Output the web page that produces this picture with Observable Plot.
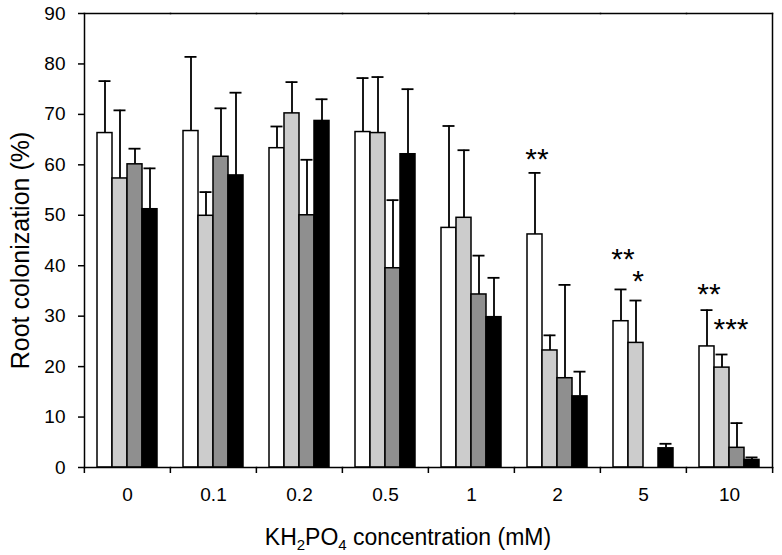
<!DOCTYPE html>
<html><head><meta charset="utf-8">
<script src="https://cdn.jsdelivr.net/npm/d3@7"></script>
<script src="https://cdn.jsdelivr.net/npm/@observablehq/plot@0.6"></script>
<style>
body{margin:0;background:#fff;font-family:"Liberation Sans",Arial,sans-serif;}
#wrap{position:relative;width:782px;height:555px;overflow:hidden;}
#xtitle{position:absolute;left:158px;width:500px;top:524px;line-height:26px;text-align:center;font-size:23px;color:#000;}
#xtitle sub{font-size:15px;vertical-align:-5px;line-height:0;}
</style></head><body><div id="wrap"><div id="chart"></div>
<div id="xtitle">KH<sub>2</sub>PO<sub>4</sub> concentration (mM)</div></div>
<script>
// ---- data ----
const categories = ["0", "0.1", "0.2", "0.5", "1", "2", "5", "10"];
const series = ["A", "B", "C", "D"];
const seriesColors = ["#ffffff", "#cccccc", "#8f8f8f", "#000000"];

const meanA = [66.3, 66.7, 63.3, 66.5, 47.5, 46.2, 29.0, 24.0];
const errA  = [10.3, 14.7, 4.3, 10.7, 20.2, 12.2, 6.3, 7.2];
const meanB = [57.3, 49.9, 70.2, 66.3, 49.5, 23.2, 24.7, 19.8];
const errB  = [13.5, 4.7, 6.2, 11.1, 13.4, 3.0, 8.4, 2.6];
const meanC = [60.1, 61.6, 50.0, 39.5, 34.3, 17.7, 0, 3.9];
const errC  = [3.1, 9.6, 11.0, 13.5, 7.7, 18.5, 0, 4.9];
const meanD = [51.2, 57.9, 68.7, 62.1, 29.8, 14.1, 3.8, 1.5];
const errD  = [8.1, 16.4, 4.3, 12.9, 7.8, 4.9, 0.9, 0.5];

const yTicks = [0, 10, 20, 30, 40, 50, 60, 70, 80, 90];

const sigCategory = ["2", "5", "5", "10", "10"];
const sigSeries   = ["A", "A", "B", "A", "B"];
const sigLabel    = ["**", "**", "*", "**", "***"];
const sigY        = [62.5, 42.7, 38.4, 35.9, 28.8];

// ---- build table ----
const meansAll = [meanA, meanB, meanC, meanD];
const errsAll = [errA, errB, errC, errD];
const rows = [];
categories.forEach((c, i) => series.forEach((s, j) => {
  rows.push({cat: c, series: s, mean: meansAll[j][i], err: errsAll[j][i]});
}));
const barRows = rows.filter(d => d.mean > 0);
const errRows = rows.filter(d => d.mean > 0 && d.err > 0);
const sig = sigLabel.map((t, i) => ({cat: sigCategory[i], series: sigSeries[i], label: t, y: sigY[i]}));

const W = 782, H = 520, mL = 83, mR = 9, mT = 13, mB = 53;
const bw = (W - mL - mR) / categories.length;
const starSize = 30;
const tickFont = 19;

const chart = Plot.plot({
  width: W, height: H,
  marginLeft: mL, marginRight: mR, marginTop: mT, marginBottom: mB,
  style: {fontFamily: "'Liberation Sans', Arial, sans-serif", fontSize: "19px", color: "#000", background: "#fff"},
  fx: {domain: categories, padding: 0, label: null},
  x: {domain: series, paddingInner: 0, paddingOuter: 0.695, axis: null},
  y: {domain: [0, 90], axis: null},
  color: {domain: series, range: seriesColors},
  marks: [
    Plot.barY(barRows, {fx: "cat", x: "series", y: "mean", fill: "series", stroke: "#000", strokeWidth: 1.5}),
    Plot.ruleX(errRows, {fx: "cat", x: "series", y1: "mean", y2: d => d.mean + d.err, stroke: "#000", strokeWidth: 1.8}),
    Plot.tickY(errRows, {fx: "cat", x: "series", y: d => d.mean + d.err, stroke: "#000", strokeWidth: 1.8, insetLeft: 1.5, insetRight: 1.5}),
    Plot.text(sig.filter(d => d.label !== "***"), {fx: "cat", x: "series", y: "y", text: "label", fontSize: starSize, dy: starSize * 0.255, dx: 2}),
    Plot.text(sig.filter(d => d.label === "***"), {fx: "cat", x: "series", y: "y", text: "label", fontSize: starSize, dy: starSize * 0.255, dx: 9}),
    Plot.frame({anchor: "top", stroke: "#000", strokeWidth: 1.5}),
    Plot.frame({anchor: "bottom", stroke: "#000", strokeWidth: 1.5}),
    Plot.frame({anchor: "left", facetAnchor: "left", stroke: "#000", strokeWidth: 1.5}),
    Plot.frame({anchor: "right", facetAnchor: "right", stroke: "#000", strokeWidth: 1.5}),
    // y ticks and labels
    Plot.axisY({anchor: "left", ticks: yTicks, tickSize: 6, tickFormat: () => "", label: null, strokeWidth: 1.5}),
    Plot.text(yTicks, {y: d => d, text: d => String(d), frameAnchor: "left", textAnchor: "end", dx: -19, fontSize: tickFont, facetAnchor: "left"}),
    Plot.text(["Root colonization (%)"], {text: d => d, frameAnchor: "left", textAnchor: "middle", rotate: -90, dx: -64, dy: 10, fontSize: 25, facetAnchor: "left"}),
    // x category labels at band centres, ticks at band boundaries
    Plot.text(categories, {fx: d => d, text: d => d, frameAnchor: "bottom", lineAnchor: "middle", dy: 27, fontSize: tickFont}),
    Plot.axisFx({anchor: "bottom", tickSize: 6, dx: -bw / 2, tickFormat: () => "", label: null, strokeWidth: 1.5}),
    Plot.axisFx({anchor: "bottom", ticks: [categories[categories.length - 1]], tickSize: 6, dx: bw / 2, tickFormat: () => "", label: null, strokeWidth: 1.5})
  ]
});
document.getElementById("chart").appendChild(chart);
</script>
</body></html>
